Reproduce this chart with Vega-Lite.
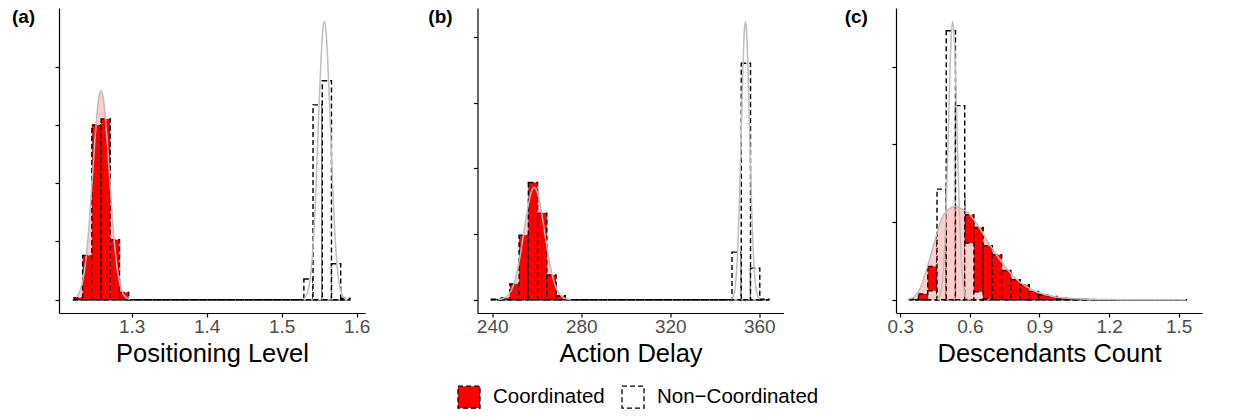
{
  "$schema": "https://vega.github.io/schema/vega-lite/v6.json",
  "background": "white",
  "padding": {"left": 11, "top": 8, "right": 5, "bottom": 3},
  "datasets": {
    "bars_a": [
      {"bin_start": 1.2223, "bin_end": 1.2346, "coord": 0.34, "noncoord": 0},
      {"bin_start": 1.2346, "bin_end": 1.2469, "coord": 7.6, "noncoord": 0},
      {"bin_start": 1.2469, "bin_end": 1.2592, "coord": 30.0, "noncoord": 0},
      {"bin_start": 1.2592, "bin_end": 1.2715, "coord": 31.05, "noncoord": 0},
      {"bin_start": 1.2715, "bin_end": 1.2838, "coord": 10.3, "noncoord": 0},
      {"bin_start": 1.2838, "bin_end": 1.2960, "coord": 1.25, "noncoord": 0},
      {"bin_start": 1.2960, "bin_end": 1.3083, "coord": 0, "noncoord": 0},
      {"bin_start": 1.3083, "bin_end": 1.3206, "coord": 0, "noncoord": 0},
      {"bin_start": 1.3206, "bin_end": 1.3329, "coord": 0, "noncoord": 0},
      {"bin_start": 1.3329, "bin_end": 1.3452, "coord": 0, "noncoord": 0},
      {"bin_start": 1.3452, "bin_end": 1.3575, "coord": 0, "noncoord": 0},
      {"bin_start": 1.3575, "bin_end": 1.3698, "coord": 0, "noncoord": 0},
      {"bin_start": 1.3698, "bin_end": 1.3821, "coord": 0, "noncoord": 0},
      {"bin_start": 1.3821, "bin_end": 1.3944, "coord": 0, "noncoord": 0},
      {"bin_start": 1.3944, "bin_end": 1.4067, "coord": 0, "noncoord": 0},
      {"bin_start": 1.4067, "bin_end": 1.4189, "coord": 0, "noncoord": 0},
      {"bin_start": 1.4189, "bin_end": 1.4312, "coord": 0, "noncoord": 0},
      {"bin_start": 1.4312, "bin_end": 1.4435, "coord": 0, "noncoord": 0},
      {"bin_start": 1.4435, "bin_end": 1.4558, "coord": 0, "noncoord": 0},
      {"bin_start": 1.4558, "bin_end": 1.4681, "coord": 0, "noncoord": 0},
      {"bin_start": 1.4681, "bin_end": 1.4804, "coord": 0, "noncoord": 0},
      {"bin_start": 1.4804, "bin_end": 1.4927, "coord": 0, "noncoord": 0},
      {"bin_start": 1.4927, "bin_end": 1.5050, "coord": 0, "noncoord": 0},
      {"bin_start": 1.5050, "bin_end": 1.5173, "coord": 0, "noncoord": 0},
      {"bin_start": 1.5173, "bin_end": 1.5296, "coord": 0, "noncoord": 0},
      {"bin_start": 1.5296, "bin_end": 1.5418, "coord": 0, "noncoord": 3.55},
      {"bin_start": 1.5418, "bin_end": 1.5541, "coord": 0, "noncoord": 33.45},
      {"bin_start": 1.5541, "bin_end": 1.5664, "coord": 0, "noncoord": 37.6},
      {"bin_start": 1.5664, "bin_end": 1.5787, "coord": 0, "noncoord": 6.17},
      {"bin_start": 1.5787, "bin_end": 1.5910, "coord": 0, "noncoord": 0.26}
    ],
    "bars_b": [
      {"bin_start": 239.60, "bin_end": 243.76, "coord": 0.0004, "noncoord": 0},
      {"bin_start": 243.76, "bin_end": 247.92, "coord": 0.0013, "noncoord": 0},
      {"bin_start": 247.92, "bin_end": 252.08, "coord": 0.01195, "noncoord": 0},
      {"bin_start": 252.08, "bin_end": 256.24, "coord": 0.04924, "noncoord": 0},
      {"bin_start": 256.24, "bin_end": 260.40, "coord": 0.08927, "noncoord": 0},
      {"bin_start": 260.40, "bin_end": 264.56, "coord": 0.06598, "noncoord": 0},
      {"bin_start": 264.56, "bin_end": 268.72, "coord": 0.0188, "noncoord": 0},
      {"bin_start": 268.72, "bin_end": 272.88, "coord": 0.00304, "noncoord": 0},
      {"bin_start": 272.88, "bin_end": 277.04, "coord": 0, "noncoord": 0},
      {"bin_start": 277.04, "bin_end": 281.20, "coord": 0, "noncoord": 0},
      {"bin_start": 281.20, "bin_end": 285.36, "coord": 0, "noncoord": 0},
      {"bin_start": 285.36, "bin_end": 289.52, "coord": 0, "noncoord": 0},
      {"bin_start": 289.52, "bin_end": 293.68, "coord": 0, "noncoord": 0},
      {"bin_start": 293.68, "bin_end": 297.84, "coord": 0, "noncoord": 0},
      {"bin_start": 297.84, "bin_end": 302.00, "coord": 0, "noncoord": 0},
      {"bin_start": 302.00, "bin_end": 306.16, "coord": 0, "noncoord": 0},
      {"bin_start": 306.16, "bin_end": 310.32, "coord": 0, "noncoord": 0},
      {"bin_start": 310.32, "bin_end": 314.48, "coord": 0, "noncoord": 0},
      {"bin_start": 314.48, "bin_end": 318.64, "coord": 0, "noncoord": 0},
      {"bin_start": 318.64, "bin_end": 322.80, "coord": 0, "noncoord": 0},
      {"bin_start": 322.80, "bin_end": 326.96, "coord": 0, "noncoord": 0},
      {"bin_start": 326.96, "bin_end": 331.12, "coord": 0, "noncoord": 0},
      {"bin_start": 331.12, "bin_end": 335.28, "coord": 0, "noncoord": 0},
      {"bin_start": 335.28, "bin_end": 339.44, "coord": 0, "noncoord": 0},
      {"bin_start": 339.44, "bin_end": 343.60, "coord": 0, "noncoord": 0},
      {"bin_start": 343.60, "bin_end": 347.76, "coord": 0, "noncoord": 0},
      {"bin_start": 347.76, "bin_end": 351.92, "coord": 0, "noncoord": 0.0363},
      {"bin_start": 351.92, "bin_end": 356.08, "coord": 0, "noncoord": 0.1801},
      {"bin_start": 356.08, "bin_end": 360.24, "coord": 0, "noncoord": 0.0241},
      {"bin_start": 360.24, "bin_end": 364.40, "coord": 0, "noncoord": 0.0004}
    ],
    "bars_c": [
      {"bin_start": 0.3388, "bin_end": 0.3786, "coord": 0.019, "noncoord": 0},
      {"bin_start": 0.3786, "bin_end": 0.4184, "coord": 0.22, "noncoord": 0},
      {"bin_start": 0.4184, "bin_end": 0.4582, "coord": 1.284, "noncoord": 0.347},
      {"bin_start": 0.4582, "bin_end": 0.4980, "coord": 2.5, "noncoord": 4.269},
      {"bin_start": 0.4980, "bin_end": 0.5378, "coord": 3.7, "noncoord": 10.384},
      {"bin_start": 0.5378, "bin_end": 0.5776, "coord": 3.95, "noncoord": 7.492},
      {"bin_start": 0.5776, "bin_end": 0.6174, "coord": 3.278, "noncoord": 2.186},
      {"bin_start": 0.6174, "bin_end": 0.6572, "coord": 2.788, "noncoord": 0.308},
      {"bin_start": 0.6572, "bin_end": 0.6970, "coord": 2.082, "noncoord": 0.039},
      {"bin_start": 0.6970, "bin_end": 0.7368, "coord": 1.735, "noncoord": 0},
      {"bin_start": 0.7368, "bin_end": 0.7766, "coord": 1.13, "noncoord": 0},
      {"bin_start": 0.7766, "bin_end": 0.8164, "coord": 0.771, "noncoord": 0},
      {"bin_start": 0.8164, "bin_end": 0.8562, "coord": 0.578, "noncoord": 0},
      {"bin_start": 0.8562, "bin_end": 0.8960, "coord": 0.32, "noncoord": 0},
      {"bin_start": 0.8960, "bin_end": 0.9358, "coord": 0.193, "noncoord": 0},
      {"bin_start": 0.9358, "bin_end": 0.9756, "coord": 0.127, "noncoord": 0},
      {"bin_start": 0.9756, "bin_end": 1.0154, "coord": 0.066, "noncoord": 0},
      {"bin_start": 1.0154, "bin_end": 1.0552, "coord": 0.039, "noncoord": 0},
      {"bin_start": 1.0552, "bin_end": 1.0950, "coord": 0.019, "noncoord": 0},
      {"bin_start": 1.0950, "bin_end": 1.1348, "coord": 0.012, "noncoord": 0},
      {"bin_start": 1.1348, "bin_end": 1.1746, "coord": 0, "noncoord": 0},
      {"bin_start": 1.1746, "bin_end": 1.2144, "coord": 0, "noncoord": 0},
      {"bin_start": 1.2144, "bin_end": 1.2542, "coord": 0, "noncoord": 0},
      {"bin_start": 1.2542, "bin_end": 1.2940, "coord": 0, "noncoord": 0},
      {"bin_start": 1.2940, "bin_end": 1.3338, "coord": 0, "noncoord": 0},
      {"bin_start": 1.3338, "bin_end": 1.3736, "coord": 0, "noncoord": 0},
      {"bin_start": 1.3736, "bin_end": 1.4134, "coord": 0, "noncoord": 0},
      {"bin_start": 1.4134, "bin_end": 1.4532, "coord": 0, "noncoord": 0},
      {"bin_start": 1.4532, "bin_end": 1.4930, "coord": 0, "noncoord": 0},
      {"bin_start": 1.4930, "bin_end": 1.5328, "coord": 0.004, "noncoord": 0}
    ],
    "dens_a": [
      {"group": "Coordinated", "value": 1.2259, "density": 0.40},
      {"group": "Coordinated", "value": 1.2314, "density": 1.58},
      {"group": "Coordinated", "value": 1.2370, "density": 4.86},
      {"group": "Coordinated", "value": 1.2425, "density": 11.66},
      {"group": "Coordinated", "value": 1.2480, "density": 21.77},
      {"group": "Coordinated", "value": 1.2508, "density": 27.10},
      {"group": "Coordinated", "value": 1.2536, "density": 31.68},
      {"group": "Coordinated", "value": 1.2563, "density": 34.79},
      {"group": "Coordinated", "value": 1.2591, "density": 35.90},
      {"group": "Coordinated", "value": 1.2619, "density": 34.79},
      {"group": "Coordinated", "value": 1.2646, "density": 31.68},
      {"group": "Coordinated", "value": 1.2674, "density": 27.10},
      {"group": "Coordinated", "value": 1.2702, "density": 21.77},
      {"group": "Coordinated", "value": 1.2757, "density": 11.66},
      {"group": "Coordinated", "value": 1.2812, "density": 4.86},
      {"group": "Coordinated", "value": 1.2868, "density": 1.58},
      {"group": "Coordinated", "value": 1.2923, "density": 0.40},
      {"group": "Coordinated", "value": 1.2978, "density": 0.08},
      {"group": "Non−Coordinated", "value": 1.5279, "density": 0.10},
      {"group": "Non−Coordinated", "value": 1.5321, "density": 0.53},
      {"group": "Non−Coordinated", "value": 1.5362, "density": 2.10},
      {"group": "Non−Coordinated", "value": 1.5403, "density": 6.46},
      {"group": "Non−Coordinated", "value": 1.5445, "density": 15.50},
      {"group": "Non−Coordinated", "value": 1.5486, "density": 28.95},
      {"group": "Non−Coordinated", "value": 1.5507, "density": 36.03},
      {"group": "Non−Coordinated", "value": 1.5528, "density": 42.13},
      {"group": "Non−Coordinated", "value": 1.5548, "density": 46.27},
      {"group": "Non−Coordinated", "value": 1.5569, "density": 47.74},
      {"group": "Non−Coordinated", "value": 1.5590, "density": 46.27},
      {"group": "Non−Coordinated", "value": 1.5610, "density": 42.13},
      {"group": "Non−Coordinated", "value": 1.5631, "density": 36.03},
      {"group": "Non−Coordinated", "value": 1.5652, "density": 28.95},
      {"group": "Non−Coordinated", "value": 1.5693, "density": 15.50},
      {"group": "Non−Coordinated", "value": 1.5735, "density": 6.46},
      {"group": "Non−Coordinated", "value": 1.5776, "density": 2.10},
      {"group": "Non−Coordinated", "value": 1.5817, "density": 0.53},
      {"group": "Non−Coordinated", "value": 1.5859, "density": 0.10}
    ],
    "dens_b": [
      {"group": "Coordinated", "value": 242.70, "density": 0.00019},
      {"group": "Coordinated", "value": 245.01, "density": 0.00095},
      {"group": "Coordinated", "value": 247.33, "density": 0.00375},
      {"group": "Coordinated", "value": 249.64, "density": 0.01157},
      {"group": "Coordinated", "value": 251.96, "density": 0.02776},
      {"group": "Coordinated", "value": 254.27, "density": 0.05186},
      {"group": "Coordinated", "value": 255.43, "density": 0.06453},
      {"group": "Coordinated", "value": 256.59, "density": 0.07545},
      {"group": "Coordinated", "value": 257.74, "density": 0.08287},
      {"group": "Coordinated", "value": 258.90, "density": 0.0855},
      {"group": "Coordinated", "value": 260.06, "density": 0.08287},
      {"group": "Coordinated", "value": 261.22, "density": 0.07545},
      {"group": "Coordinated", "value": 262.37, "density": 0.06453},
      {"group": "Coordinated", "value": 263.53, "density": 0.05186},
      {"group": "Coordinated", "value": 265.85, "density": 0.02776},
      {"group": "Coordinated", "value": 268.16, "density": 0.01157},
      {"group": "Coordinated", "value": 270.48, "density": 0.00375},
      {"group": "Coordinated", "value": 272.79, "density": 0.00095},
      {"group": "Coordinated", "value": 275.11, "density": 0.00019},
      {"group": "Non−Coordinated", "value": 347.26, "density": 0.00047},
      {"group": "Non−Coordinated", "value": 348.19, "density": 0.00235},
      {"group": "Non−Coordinated", "value": 349.13, "density": 0.0093},
      {"group": "Non−Coordinated", "value": 350.06, "density": 0.0287},
      {"group": "Non−Coordinated", "value": 351.00, "density": 0.0688},
      {"group": "Non−Coordinated", "value": 351.93, "density": 0.1285},
      {"group": "Non−Coordinated", "value": 352.40, "density": 0.1599},
      {"group": "Non−Coordinated", "value": 352.87, "density": 0.1869},
      {"group": "Non−Coordinated", "value": 353.33, "density": 0.2053},
      {"group": "Non−Coordinated", "value": 353.80, "density": 0.2118},
      {"group": "Non−Coordinated", "value": 354.27, "density": 0.2053},
      {"group": "Non−Coordinated", "value": 354.74, "density": 0.1869},
      {"group": "Non−Coordinated", "value": 355.20, "density": 0.1599},
      {"group": "Non−Coordinated", "value": 355.67, "density": 0.1285},
      {"group": "Non−Coordinated", "value": 356.61, "density": 0.0688},
      {"group": "Non−Coordinated", "value": 357.54, "density": 0.0287},
      {"group": "Non−Coordinated", "value": 358.48, "density": 0.0093},
      {"group": "Non−Coordinated", "value": 359.41, "density": 0.00235},
      {"group": "Non−Coordinated", "value": 360.35, "density": 0.00047}
    ],
    "dens_c": [
      {"group": "Coordinated", "value": 0.3375, "density": 0.031},
      {"group": "Coordinated", "value": 0.3591, "density": 0.116},
      {"group": "Coordinated", "value": 0.3806, "density": 0.347},
      {"group": "Coordinated", "value": 0.4022, "density": 0.848},
      {"group": "Coordinated", "value": 0.4280, "density": 1.620},
      {"group": "Coordinated", "value": 0.4539, "density": 2.429},
      {"group": "Coordinated", "value": 0.4797, "density": 3.162},
      {"group": "Coordinated", "value": 0.5056, "density": 3.470},
      {"group": "Coordinated", "value": 0.5358, "density": 3.598},
      {"group": "Coordinated", "value": 0.5659, "density": 3.509},
      {"group": "Coordinated", "value": 0.5961, "density": 3.316},
      {"group": "Coordinated", "value": 0.6349, "density": 2.853},
      {"group": "Coordinated", "value": 0.6780, "density": 2.236},
      {"group": "Coordinated", "value": 0.7168, "density": 1.697},
      {"group": "Coordinated", "value": 0.7599, "density": 1.195},
      {"group": "Coordinated", "value": 0.7987, "density": 0.810},
      {"group": "Coordinated", "value": 0.8375, "density": 0.540},
      {"group": "Coordinated", "value": 0.8763, "density": 0.347},
      {"group": "Coordinated", "value": 0.9194, "density": 0.212},
      {"group": "Coordinated", "value": 0.9582, "density": 0.127},
      {"group": "Coordinated", "value": 0.9970, "density": 0.077},
      {"group": "Coordinated", "value": 1.0401, "density": 0.046},
      {"group": "Coordinated", "value": 1.0832, "density": 0.027},
      {"group": "Coordinated", "value": 1.1478, "density": 0.012},
      {"group": "Coordinated", "value": 1.2125, "density": 0.004},
      {"group": "Coordinated", "value": 1.2987, "density": 0.001},
      {"group": "Coordinated", "value": 1.4280, "density": 0.0},
      {"group": "Coordinated", "value": 1.5315, "density": 0.0},
      {"group": "Non−Coordinated", "value": 0.4595, "density": 0.024},
      {"group": "Non−Coordinated", "value": 0.4691, "density": 0.119},
      {"group": "Non−Coordinated", "value": 0.4785, "density": 0.471},
      {"group": "Non−Coordinated", "value": 0.4880, "density": 1.452},
      {"group": "Non−Coordinated", "value": 0.4975, "density": 3.48},
      {"group": "Non−Coordinated", "value": 0.5070, "density": 6.51},
      {"group": "Non−Coordinated", "value": 0.5117, "density": 8.10},
      {"group": "Non−Coordinated", "value": 0.5164, "density": 9.47},
      {"group": "Non−Coordinated", "value": 0.5212, "density": 10.40},
      {"group": "Non−Coordinated", "value": 0.5259, "density": 10.73},
      {"group": "Non−Coordinated", "value": 0.5306, "density": 10.40},
      {"group": "Non−Coordinated", "value": 0.5354, "density": 9.47},
      {"group": "Non−Coordinated", "value": 0.5401, "density": 8.10},
      {"group": "Non−Coordinated", "value": 0.5448, "density": 6.51},
      {"group": "Non−Coordinated", "value": 0.5543, "density": 3.48},
      {"group": "Non−Coordinated", "value": 0.5638, "density": 1.452},
      {"group": "Non−Coordinated", "value": 0.5733, "density": 0.471},
      {"group": "Non−Coordinated", "value": 0.5828, "density": 0.119},
      {"group": "Non−Coordinated", "value": 0.5922, "density": 0.024}
    ]
  },
  "hconcat": [
    {
      "width": 306, "height": 305,
      "title": {"text": "(a)", "orient": "left", "anchor": "end", "frame": "group", "angle": 0, "align": "right", "baseline": "top", "fontSize": 19, "fontWeight": "bold", "color": "black", "offset": -4},
      "encoding": {
        "x": {"type": "quantitative", "scale": {"domain": [1.2031, 1.6111], "nice": false, "zero": false}, "axis": {"values": [1.3, 1.4, 1.5, 1.6], "format": ".1f", "title": "Positioning Level"}},
        "y": {"type": "quantitative", "scale": {"domain": [-2.28, 50.09], "nice": false, "zero": false}, "axis": {"values": [0, 10, 20, 30, 40], "labels": false, "title": null}}
      },
      "layer": [
        {
          "data": {"name": "bars_a"},
          "mark": {"type": "rect", "stroke": "black", "strokeDash": [5, 3], "strokeWidth": 1.4},
          "encoding": {
            "x": {"field": "bin_start"}, "x2": {"field": "bin_end"},
            "y": {"field": "coord"}, "y2": {"datum": 0},
            "fill": {"datum": "Coordinated", "type": "nominal", "scale": {"domain": ["Coordinated", "Non−Coordinated"], "range": ["#FF0000", "#FFFFFF"]}, "legend": {"title": null, "orient": "none", "direction": "horizontal", "legendX": 398, "legendY": 377}}
          }
        },
        {
          "data": {"name": "bars_a"},
          "mark": {"type": "rect", "stroke": "black", "strokeDash": [5, 3], "strokeWidth": 1.4},
          "encoding": {
            "x": {"field": "bin_start"}, "x2": {"field": "bin_end"},
            "y": {"field": "noncoord"}, "y2": {"datum": 0},
            "fill": {"datum": "Non−Coordinated", "type": "nominal"}
          }
        },
        {
          "data": {"name": "dens_a"},
          "transform": [{"filter": "datum.group == 'Coordinated'"}],
          "mark": {"type": "area", "color": "#FF0000", "opacity": 0.2, "interpolate": "monotone"},
          "encoding": {"x": {"field": "value"}, "y": {"field": "density"}}
        },
        {
          "data": {"name": "dens_a"},
          "mark": {"type": "line", "color": "#BEBEBE", "strokeWidth": 1.5, "interpolate": "monotone"},
          "encoding": {"x": {"field": "value"}, "y": {"field": "density"}, "detail": {"field": "group", "type": "nominal"}}
        }
      ]
    },
    {
      "width": 306, "height": 305,
      "title": {"text": "(b)", "orient": "left", "anchor": "end", "frame": "group", "angle": 0, "align": "right", "baseline": "top", "fontSize": 19, "fontWeight": "bold", "color": "black", "offset": -4},
      "encoding": {
        "x": {"type": "quantitative", "scale": {"domain": [233.39, 370.9], "nice": false, "zero": false}, "axis": {"values": [240, 280, 320, 360], "format": "d", "title": "Action Delay"}},
        "y": {"type": "quantitative", "scale": {"domain": [-0.0101, 0.2222], "nice": false, "zero": false}, "axis": {"values": [0, 0.05, 0.1, 0.15, 0.2], "labels": false, "title": null}}
      },
      "layer": [
        {
          "data": {"name": "bars_b"},
          "mark": {"type": "rect", "stroke": "black", "strokeDash": [5, 3], "strokeWidth": 1.4},
          "encoding": {
            "x": {"field": "bin_start"}, "x2": {"field": "bin_end"},
            "y": {"field": "coord"}, "y2": {"datum": 0},
            "fill": {"datum": "Coordinated", "type": "nominal", "scale": {"domain": ["Coordinated", "Non−Coordinated"], "range": ["#FF0000", "#FFFFFF"]}, "legend": {"title": null, "orient": "none", "direction": "horizontal", "legendX": 398, "legendY": 377}}
          }
        },
        {
          "data": {"name": "bars_b"},
          "mark": {"type": "rect", "stroke": "black", "strokeDash": [5, 3], "strokeWidth": 1.4},
          "encoding": {
            "x": {"field": "bin_start"}, "x2": {"field": "bin_end"},
            "y": {"field": "noncoord"}, "y2": {"datum": 0},
            "fill": {"datum": "Non−Coordinated", "type": "nominal"}
          }
        },
        {
          "data": {"name": "dens_b"},
          "transform": [{"filter": "datum.group == 'Coordinated'"}],
          "mark": {"type": "area", "color": "#FF0000", "opacity": 0.2, "interpolate": "monotone"},
          "encoding": {"x": {"field": "value"}, "y": {"field": "density"}}
        },
        {
          "data": {"name": "dens_b"},
          "mark": {"type": "line", "color": "#BEBEBE", "strokeWidth": 1.5, "interpolate": "monotone"},
          "encoding": {"x": {"field": "value"}, "y": {"field": "density"}, "detail": {"field": "group", "type": "nominal"}}
        }
      ]
    },
    {
      "width": 306, "height": 305,
      "title": {"text": "(c)", "orient": "left", "anchor": "end", "frame": "group", "angle": 0, "align": "right", "baseline": "top", "fontSize": 19, "fontWeight": "bold", "color": "black", "offset": -4},
      "encoding": {
        "x": {"type": "quantitative", "scale": {"domain": [0.2815, 1.6004], "nice": false, "zero": false}, "axis": {"values": [0.3, 0.6, 0.9, 1.2, 1.5], "format": ".1f", "title": "Descendants Count"}},
        "y": {"type": "quantitative", "scale": {"domain": [-0.513, 11.26], "nice": false, "zero": false}, "axis": {"values": [0, 3, 6, 9], "labels": false, "title": null}}
      },
      "layer": [
        {
          "data": {"name": "bars_c"},
          "mark": {"type": "rect", "stroke": "black", "strokeDash": [5, 3], "strokeWidth": 1.4},
          "encoding": {
            "x": {"field": "bin_start"}, "x2": {"field": "bin_end"},
            "y": {"field": "coord"}, "y2": {"datum": 0},
            "fill": {"datum": "Coordinated", "type": "nominal", "scale": {"domain": ["Coordinated", "Non−Coordinated"], "range": ["#FF0000", "#FFFFFF"]}, "legend": {"title": null, "orient": "none", "direction": "horizontal", "legendX": 398, "legendY": 377}}
          }
        },
        {
          "data": {"name": "bars_c"},
          "mark": {"type": "rect", "stroke": "black", "strokeDash": [5, 3], "strokeWidth": 1.4},
          "encoding": {
            "x": {"field": "bin_start"}, "x2": {"field": "bin_end"},
            "y": {"field": "noncoord"}, "y2": {"datum": 0},
            "fill": {"datum": "Non−Coordinated", "type": "nominal"}
          }
        },
        {
          "data": {"name": "dens_c"},
          "transform": [{"filter": "datum.group == 'Coordinated'"}],
          "mark": {"type": "area", "color": "#FF0000", "opacity": 0.2, "interpolate": "monotone"},
          "encoding": {"x": {"field": "value"}, "y": {"field": "density"}}
        },
        {
          "data": {"name": "dens_c"},
          "mark": {"type": "line", "color": "#BEBEBE", "strokeWidth": 1.5, "interpolate": "monotone"},
          "encoding": {"x": {"field": "value"}, "y": {"field": "density"}, "detail": {"field": "group", "type": "nominal"}}
        }
      ]
    }
  ],
  "spacing": 112.5,
  "bounds": "flush",
  "resolve": {"scale": {"fill": "shared"}, "legend": {"fill": "shared"}},
  "config": {
    "font": "Liberation Sans",
    "view": {"stroke": null},
    "axis": {"grid": false, "domainColor": "black", "domainWidth": 1.2, "tickColor": "black", "tickWidth": 1.2, "tickSize": 4, "labelColor": "#4D4D4D", "labelFontSize": 19, "labelFont": "Liberation Sans", "labelPadding": 0, "titleFont": "Liberation Sans", "titleFontSize": 25.5, "titleFontWeight": "normal", "titleColor": "black", "titlePadding": 5},
    "legend": {"labelFontSize": 20.5, "labelFont": "Liberation Sans", "labelColor": "black", "labelLimit": 400, "symbolType": "square", "symbolSize": 484, "symbolStrokeColor": "black", "symbolStrokeWidth": 1.3, "symbolDash": [5, 3], "columnPadding": 14, "labelOffset": 12}
  }
}
